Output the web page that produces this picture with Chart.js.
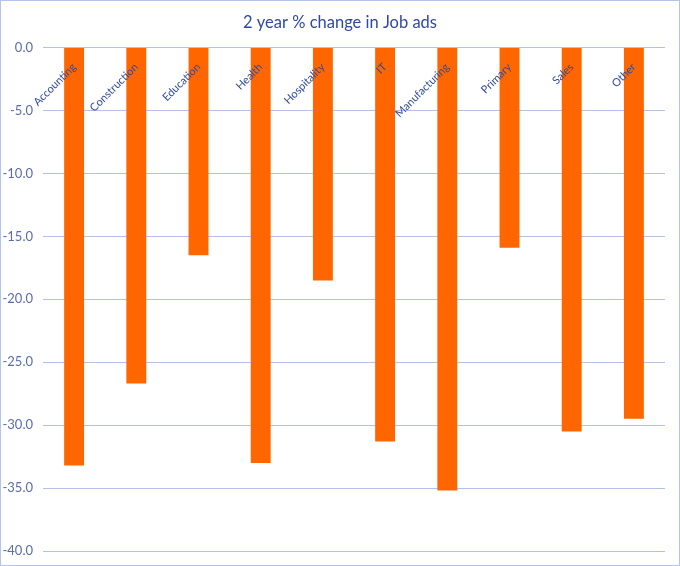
<!DOCTYPE html>
<html>
<head>
<meta charset="utf-8">
<script src="https://cdn.jsdelivr.net/npm/chart.js@4"></script>
<style>
  body { margin: 0; background: #fff; }
  #wrap { width: 678px; height: 564px; border: 1px solid #b4c4e8; }
</style>
</head>
<body>
<div id="wrap"><canvas id="jobs-chart" width="678" height="564"></canvas></div>
<script>
// 2 year % change in job ads, by sector
let sectors = ['Accounting', 'Construction', 'Education', 'Health', 'Hospitality', 'IT', 'Manufacturing', 'Primary', 'Sales', 'Other'];
let change = [-33.2, -26.7, -16.5, -33.0, -18.5, -31.3, -35.2, -15.9, -30.5, -29.5];
let yTicks = [0, -5, -10, -15, -20, -25, -30, -35, -40];

let ctx = document.getElementById('jobs-chart').getContext('2d');

// centre the title on the whole canvas, not on the padded box
let fullWidthTitle = {
  id: 'fullWidthTitle',
  afterLayout: function (chart) {
    let t = chart.titleBlock;
    if (t) {
      t.left = 0;
      t.right = chart.width;
      t.width = chart.width;
    }
  }
};

let chart = new Chart(ctx, {
  type: 'bar',
  data: {
    labels: sectors,
    datasets: [{
      label: '2 year % change',
      data: change,
      backgroundColor: '#ff6600',
      borderWidth: 0,
      categoryPercentage: 1,
      barPercentage: 0.32
    }]
  },
  plugins: [fullWidthTitle],
  options: {
    responsive: false,
    animation: false,
    layout: { padding: { left: 0, right: 14, top: 0, bottom: 14 } },
    plugins: {
      legend: { display: false },
      tooltip: { enabled: false },
      title: {
        display: true,
        text: '2 year % change in Job ads',
        color: '#2e4a9e',
        font: { family: 'Lato', size: 16.5, weight: 'normal' },
        padding: { top: 12, bottom: 14.8 }
      }
    },
    scales: {
      x: {
        position: { y: 0 },
        grid: { display: false },
        border: { display: false },
        ticks: {
          z: 1,
          color: '#2e4a9e',
          font: { family: 'Lato', size: 11 },
          minRotation: 45,
          maxRotation: 45,
          autoSkip: false,
          padding: 5
        }
      },
      y: {
        min: -40,
        max: 0,
        grid: { color: '#b4c0e6', drawTicks: false },
        border: { display: false },
        afterFit: function (scale) {
          scale.width = 42;
          scale.paddingBottom = 7;
        },
        afterBuildTicks: function (scale) {
          scale.ticks = yTicks.map(v => ({ value: v }));
        },
        ticks: {
          color: '#5a6cae',
          font: { family: 'Lato', size: 13 },
          padding: 10,
          callback: v => v.toFixed(1)
        }
      }
    }
  }
});
</script>
</body>
</html>
